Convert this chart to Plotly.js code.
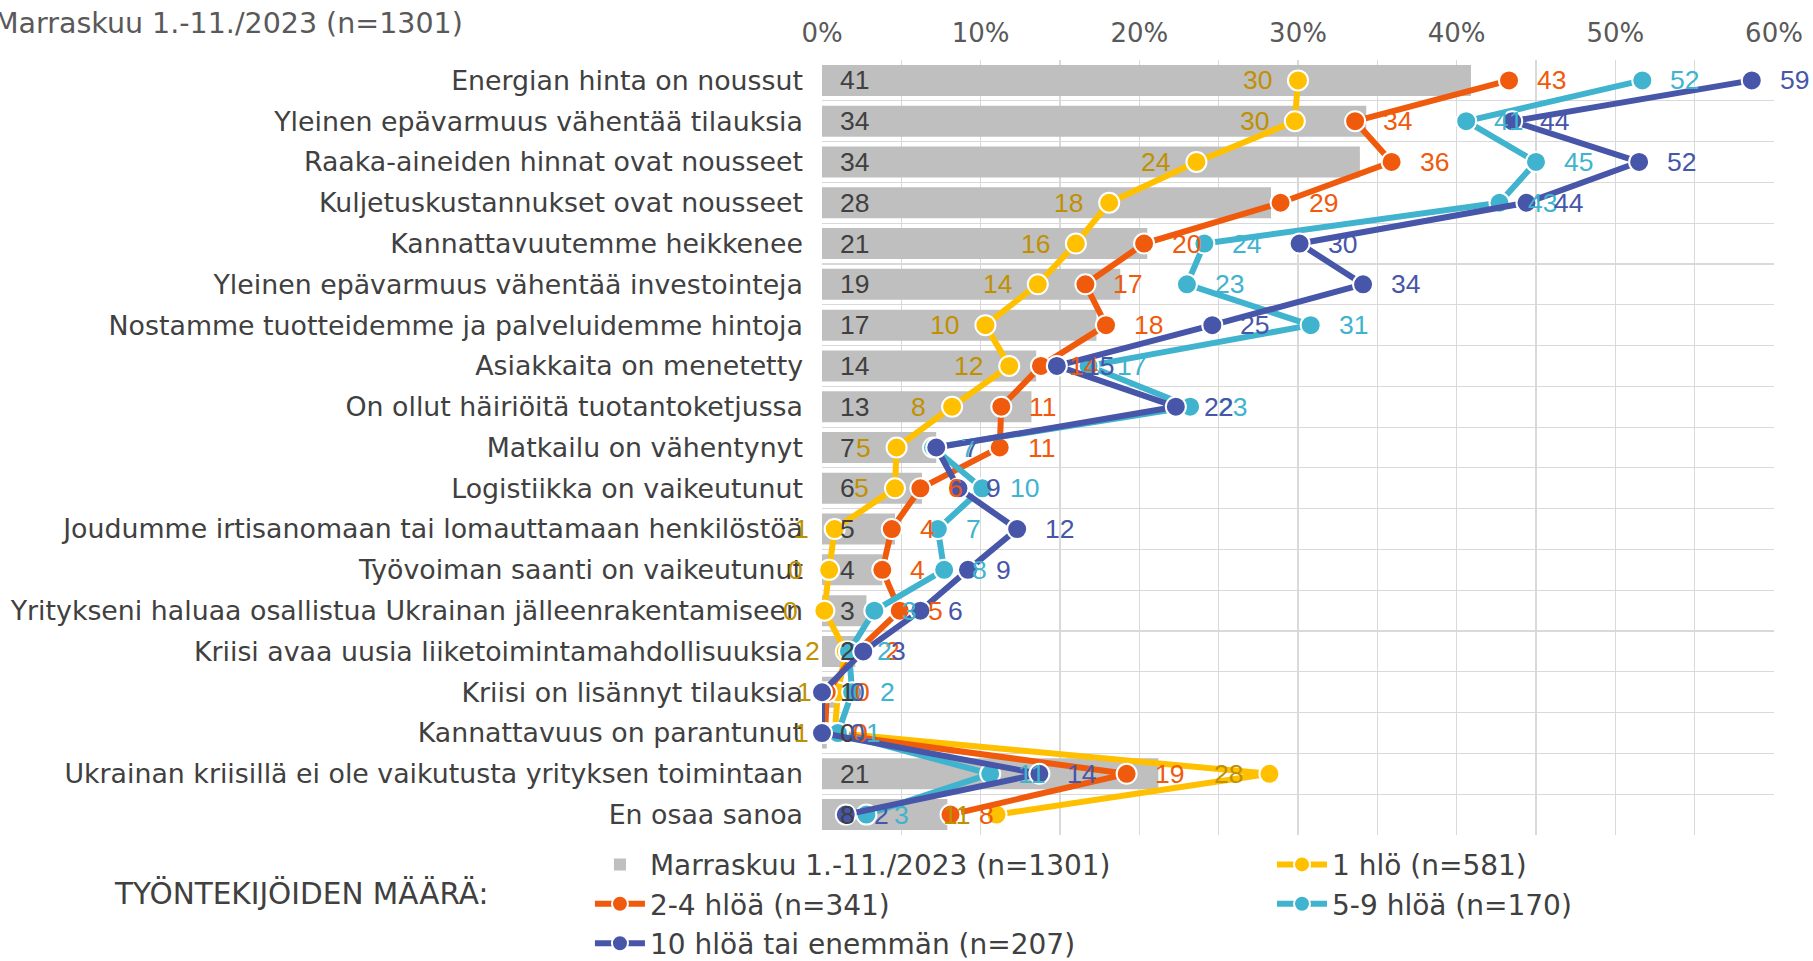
<!DOCTYPE html>
<html><head><meta charset="utf-8">
<script src="https://cdn.plot.ly/plotly-3.0.1.min.js"></script>
<style>html,body{margin:0;padding:0;background:#fff}#chart{width:1813px;height:961px}</style>
</head><body><div id="chart"></div>
<script>
const categories = [
  "Energian hinta on noussut",
  "Yleinen epävarmuus vähentää tilauksia",
  "Raaka-aineiden hinnat ovat nousseet",
  "Kuljetuskustannukset ovat nousseet",
  "Kannattavuutemme heikkenee",
  "Yleinen epävarmuus vähentää investointeja",
  "Nostamme tuotteidemme ja palveluidemme hintoja",
  "Asiakkaita on menetetty",
  "On ollut häiriöitä tuotantoketjussa",
  "Matkailu on vähentynyt",
  "Logistiikka on vaikeutunut",
  "Joudumme irtisanomaan tai lomauttamaan henkilöstöä",
  "Työvoiman saanti on vaikeutunut",
  "Yritykseni haluaa osallistua Ukrainan jälleenrakentamiseen",
  "Kriisi avaa uusia liiketoimintamahdollisuuksia",
  "Kriisi on lisännyt tilauksia",
  "Kannattavuus on parantunut",
  "Ukrainan kriisillä ei ole vaikutusta yrityksen toimintaan",
  "En osaa sanoa"
];
const marraskuu = [40.9, 34.3, 33.9, 28.3, 20.5, 18.8, 17.3, 13.5, 13.2, 7.2, 6.3, 4.6, 3.8, 2.8, 2.1, 1.0, 0.3, 21.2, 7.9];
const hlo1      = [30.0, 29.8, 23.6, 18.1, 16.0, 13.6, 10.3, 11.8, 8.2, 4.7, 4.6, 0.8, 0.45, 0.15, 1.5, 1.0, 0.8, 28.2, 11.0];
const hlo2_4    = [43.3, 33.6, 35.9, 28.9, 20.3, 16.6, 17.9, 13.8, 11.3, 11.2, 6.2, 4.4, 3.8, 4.9, 2.2, 0.3, 0.2, 19.2, 8.1];
const hlo5_9    = [51.7, 40.6, 45.0, 42.7, 24.1, 23.0, 30.8, 16.8, 23.2, 7.0, 10.1, 7.3, 7.7, 3.3, 1.7, 1.9, 1.0, 10.6, 2.8];
const hlo10     = [58.6, 43.5, 51.5, 44.4, 30.1, 34.1, 24.6, 14.8, 22.3, 7.2, 8.6, 12.3, 9.2, 6.2, 2.6, 0.0, 0.0, 13.7, 1.5];

const barName = "Marraskuu 1.-11./2023 (n=1301)";
const legendTitle = "TYÖNTEKIJÖIDEN MÄÄRÄ:";
const seriesNames = ["1 hlö (n=581)", "2-4 hlöä (n=341)", "5-9 hlöä (n=170)", "10 hlöä tai enemmän (n=207)"];
const seriesValues = [hlo1, hlo2_4, hlo5_9, hlo10];
const seriesColors = ["#FFC000", "#EF5A0C", "#40B3CE", "#4756A8"];
const labelColors  = ["#BF9000", "#EF5A0C", "#40B3CE", "#4756A8"];
const labelSide    = ["left", "right", "right", "right"];
const seriesLegend = ["legend2", "legend", "legend2", "legend"];
const xTickVals = [0, 10, 20, 30, 40, 50, 60];
const xTickText = ["0%", "10%", "20%", "30%", "40%", "50%", "60%"];

const traces = [{
  type: "bar", orientation: "h", name: barName, legend: "legend",
  x: marraskuu, y: categories,
  marker: {color: "#BFBFBF"}, hoverinfo: "skip"
}];
seriesValues.forEach((vals, i) => {
  traces.push({
    type: "scatter", mode: "lines+markers", name: seriesNames[i], legend: seriesLegend[i],
    x: vals, y: categories, cliponaxis: false,
    line: {color: seriesColors[i], width: 6},
    marker: {size: 20, color: seriesColors[i], line: {color: "#FFFFFF", width: 2}},
    hoverinfo: "skip"
  });
});

const labelFont = "Liberation Sans, Arial, sans-serif";
const textFont = "DejaVu Sans, Verdana, sans-serif";
const annotations = [];
marraskuu.forEach((v, j) => {
  annotations.push({
    x: 0, y: categories[j], xref: "x", yref: "y", text: String(Math.round(v)),
    showarrow: false, xanchor: "left", yanchor: "middle", xshift: 16,
    font: {family: labelFont, size: 26.5, color: "#404040"}
  });
});
seriesValues.forEach((vals, i) => {
  vals.forEach((v, j) => {
    const left = labelSide[i] === "left";
    annotations.push({
      x: v, y: categories[j], xref: "x", yref: "y", text: String(Math.round(v)),
      showarrow: false, xanchor: left ? "right" : "left", yanchor: "middle",
      xshift: left ? -24 : 26,
      font: {family: labelFont, size: 26.5, color: labelColors[i]}
    });
  });
});
annotations.push({
  xref: "paper", yref: "paper", x: -0.8718, y: 1.0477, xanchor: "left", yanchor: "middle",
  text: barName, showarrow: false,
  font: {family: textFont, size: 28.5, color: "#595959"}
});
annotations.push({
  xref: "paper", yref: "paper", x: -0.7458, y: -0.0761, xanchor: "left", yanchor: "middle",
  text: legendTitle, showarrow: false,
  font: {family: textFont, size: 29.5, color: "#404040"}
});

const legendBase = {
  orientation: "v", xref: "container", yref: "container",
  xanchor: "left", yanchor: "top", itemwidth: 50, tracegroupgap: 0,
  traceorder: "normal", bgcolor: "rgba(0,0,0,0)",
  font: {family: textFont, size: 28, color: "#404040"}
};

const layout = {
  width: 1813, height: 961,
  margin: {l: 822, r: 39, t: 60, b: 126, autoexpand: false},
  paper_bgcolor: "#FFFFFF", plot_bgcolor: "#FFFFFF",
  font: {family: textFont, size: 26, color: "#404040"},
  barmode: "overlay", bargap: 0.24,
  showlegend: true,
  xaxis: {
    side: "top", range: [0, 60], tickvals: xTickVals, ticktext: xTickText,
    showgrid: true, gridcolor: "#D9D9D9", gridwidth: 1.2, zeroline: false, showline: false,
    ticks: "", ticklabelstandoff: 12,
    tickfont: {size: 26, color: "#595959"},
    minor: {dtick: 5, tick0: 0, showgrid: true, gridcolor: "#D9D9D9", gridwidth: 1.2},
    fixedrange: true
  },
  yaxis: {
    type: "category", range: [18.5, -0.5], tickson: "boundaries",
    showgrid: true, gridcolor: "#D9D9D9", gridwidth: 1.2, ticks: "", showline: false, zeroline: false,
    ticklabelstandoff: 18,
    tickfont: {size: 26.8, color: "#404040"}, fixedrange: true
  },
  legend: Object.assign({}, legendBase, {x: 0.3254, y: 0.1262}),
  legend2: Object.assign({}, legendBase, {x: 0.7016, y: 0.1262}),
  annotations: annotations
};

Plotly.newPlot("chart", traces, layout, {staticPlot: true, displayModeBar: false});
</script>
</body></html>
